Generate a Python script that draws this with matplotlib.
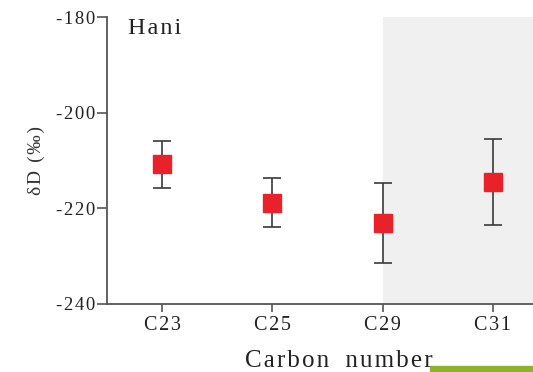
import matplotlib.pyplot as plt
from matplotlib.patches import Rectangle

categories = ['C23', 'C25', 'C29', 'C31']
values = [-210.8, -218.8, -223.1, -214.5]
errors = [4.9, 5.1, 8.4, 9.0]
yticks = [-180, -200, -220, -240]

plt.rcParams['font.family'] = ['Liberation Serif', 'DejaVu Serif']


def spaced(s, sep='\u200a'):
    # the original text is set with loose letter spacing
    return sep.join(s)


fig = plt.figure(figsize=(5.33, 3.72), dpi=100)
ax = fig.add_axes([0.2008, 0.1828, 0.8274, 0.7715])

x = list(range(1, len(categories) + 1))
ax.axvspan(3, 4.6, color='#eff0ef', zorder=0)
ax.errorbar(x, values, yerr=errors, fmt='s', color='#e8212a', ms=13,
            ecolor='#3a3a3a', elinewidth=1.2, capsize=6.5, capthick=1.2, zorder=3)

ax.set_xlim(0.5, 4.5)
ax.set_ylim(-240, -180)
ax.set_xticks(x)
ax.set_xticklabels([spaced(c) for c in categories], fontsize=14.5)
ax.set_yticks(yticks)
ax.set_yticklabels([spaced(str(t)) for t in yticks], fontsize=13.5)
ax.tick_params(axis='y', direction='out', length=7, width=1.2, color='#555555',
               labelcolor='#222222', pad=1.5)
ax.tick_params(axis='x', direction='out', length=6, width=1.2, color='#555555',
               labelcolor='#222222', pad=3)
for s in ['top', 'right']:
    ax.spines[s].set_visible(False)
for s in ['left', 'bottom']:
    ax.spines[s].set_color('#555555')
    ax.spines[s].set_linewidth(1.3)

ax.set_ylabel(spaced('δD (‰)'), fontsize=14, color='#333333', labelpad=8)
fig.text(339 / 533, 1 - 367 / 372, spaced('Carbon') + '\u2009 \u2009' + spaced('number'),
         fontsize=18, color='#222222', ha='center', va='baseline')
ax.text(21 / 441, 0.995, spaced('Hani'), transform=ax.transAxes, fontsize=17.5,
        color='#222222', va='top', ha='left')

fig.patches.append(Rectangle((430 / 533, 0), 103 / 533, 6 / 372,
                             transform=fig.transFigure, color='#8db32b'))

fig.savefig('out.png', dpi=100)
